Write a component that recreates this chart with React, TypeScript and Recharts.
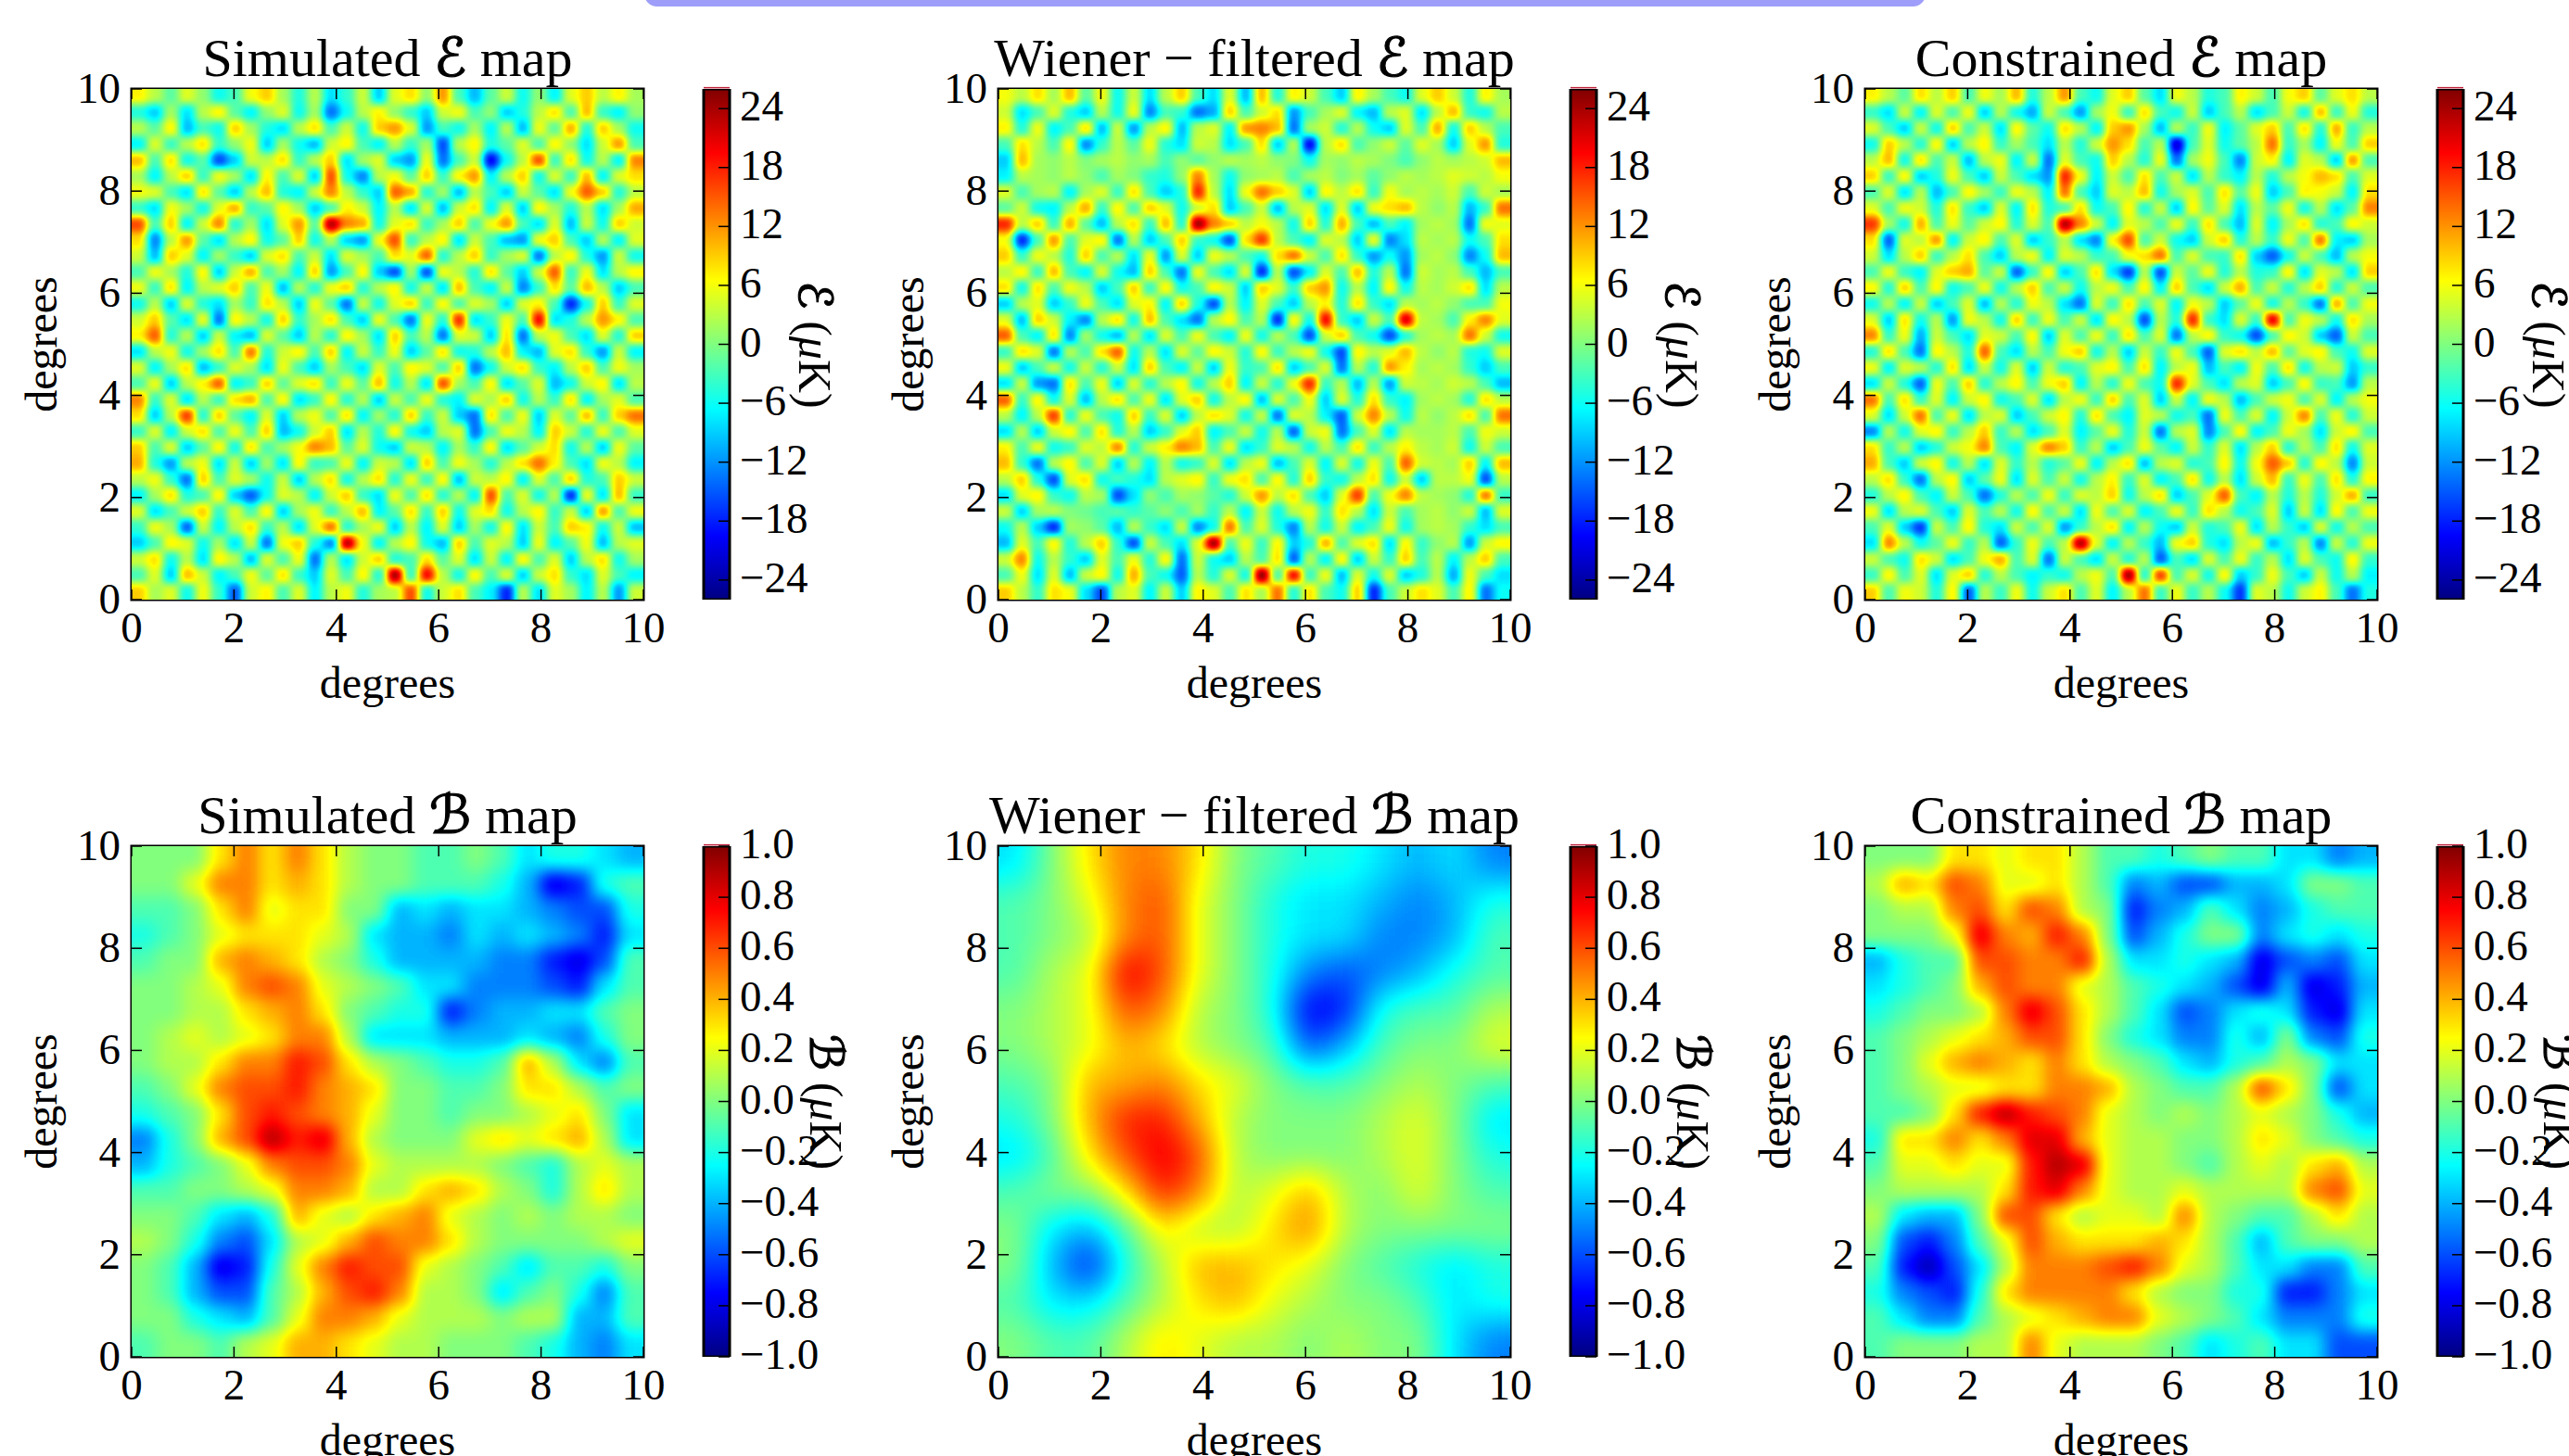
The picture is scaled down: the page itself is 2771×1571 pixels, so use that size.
import React from 'react';
import {
  ScatterChart, Scatter, BarChart, Bar, XAxis, YAxis, ReferenceArea, ReferenceLine,
} from 'recharts';

const mapTicks = [0, 2, 4, 6, 8, 10];
const eBarTicks = [-24, -18, -12, -6, 0, 6, 12, 18, 24];
const bBarTicks = [-1, -0.8, -0.6, -0.4, -0.2, 0, 0.2, 0.4, 0.6, 0.8, 1];

// E maps in uK (top row first)
const eSimulated = [
  [7,3,-2,5,1,-6,-3,6,9,2,-5,3,-8,-4,4,-9,5,8,1,12,-3,-10,-2,4,-6,1,-7,5,9,3,7,2],
  [-5,-9,2,-8,3,7,-2,-7,1,5,-6,2,-14,-6,3,7,1,-4,-9,4,6,-3,1,-9,-5,3,8,-3,10,-4,-7,1],
  [3,-2,7,-10,-3,-6,9,2,-5,-8,3,8,-3,4,-6,9,12,5,-12,-3,-6,2,-7,3,-10,6,-2,11,-5,9,2,-6],
  [-7,5,-4,3,8,-4,1,6,-9,2,-6,-10,4,7,-3,-7,3,-4,2,-16,3,7,-5,-2,5,-3,7,1,-8,4,12,-3],
  [10,-3,8,-6,-2,-16,-9,4,3,8,-4,3,9,-8,2,5,-9,-12,6,-14,-3,4,-20,-6,3,16,-4,8,-6,3,-7,13],
  [2,-7,3,9,-4,6,2,-8,7,-3,5,-9,16,-6,-13,3,6,-2,9,-4,7,12,-7,3,9,-6,5,-4,10,-7,5,8],
  [6,5,-3,-8,8,-2,-9,3,10,-5,-7,4,13,3,-4,-9,15,11,-5,2,-10,3,-3,-9,4,-2,-8,6,15,9,-5,3],
  [-4,-8,6,2,-6,5,11,-4,-2,7,2,-9,-3,7,4,-7,3,-8,5,-10,4,8,-7,5,-9,7,2,-5,3,-8,2,11],
  [16,-3,9,-7,4,13,-5,2,-8,5,12,-2,24,13,11,-6,5,8,-4,2,9,-3,6,12,-3,-8,5,-10,4,-6,9,4],
  [8,-13,3,12,-2,-8,3,7,-6,-2,9,-6,3,-9,-12,6,16,-4,3,7,-8,4,-3,-10,-12,6,9,-3,-9,3,-7,5],
  [4,-10,9,5,-7,2,-4,-9,5,8,-3,4,-8,5,2,-3,8,5,15,-5,3,9,-4,2,5,-14,3,7,-5,-12,4,-6],
  [-3,6,2,-5,7,-9,4,11,-3,2,-7,9,-12,-3,7,-9,-16,2,-16,6,3,-5,8,-2,-9,4,15,-4,6,-8,3,7],
  [6,-4,8,-7,3,5,9,-3,6,-10,3,-5,6,9,-5,3,7,-6,4,-8,10,-3,-7,4,-13,-4,8,-2,10,3,-9,-3],
  [-6,3,-9,5,-5,-8,2,-4,8,3,-9,6,-2,-14,4,-6,5,9,-4,7,-3,5,2,-9,5,7,-3,-18,-6,9,-4,5],
  [4,9,-2,-8,6,-14,7,3,-6,9,-4,2,8,-3,-9,6,-3,-14,6,-5,18,-8,-4,6,-3,20,-8,-5,3,12,7,-3],
  [7,15,-5,3,-9,4,-7,-10,5,-2,-9,3,-5,7,2,-8,9,-3,3,-14,5,4,-9,8,-14,3,6,-3,-8,5,-5,9],
  [-8,3,6,-6,2,8,-3,14,-5,4,7,-3,9,-7,4,-4,6,-9,-2,8,-6,-5,3,10,-7,-10,5,8,-4,-12,4,-7],
  [5,-7,2,8,-10,-4,5,2,-8,6,-3,-9,2,-3,-8,5,-3,7,5,-3,9,-14,-6,4,8,-4,-7,3,9,-3,6,2],
  [-3,6,-9,3,7,15,-7,-4,9,-2,5,8,-4,6,-2,10,-6,3,-8,16,2,-3,7,-8,-2,5,-10,-6,4,7,-8,3],
  [13,-4,5,-8,3,-4,8,11,-3,7,-8,-4,7,-5,3,-9,4,-3,6,-5,-7,5,2,9,-6,3,-4,8,-7,2,5,-3],
  [8,-9,3,17,-5,9,-2,-7,5,-9,3,6,-3,8,-7,2,-5,9,-4,4,-9,-14,8,-3,6,-9,5,-2,10,-4,9,14],
  [-4,5,-7,4,8,-3,6,-3,9,-10,-6,4,9,-8,3,-5,7,-6,-9,3,5,-14,-3,6,3,-7,9,4,-5,6,-3,5],
  [9,-3,5,-9,-2,7,-6,8,-3,2,6,13,10,-2,5,-6,-9,4,3,-7,2,-4,7,-8,-2,4,8,-6,3,-9,6,-2],
  [11,-5,-12,3,6,-8,4,-9,2,-8,7,-4,-3,6,-7,4,3,-8,9,-3,6,2,-5,3,8,14,7,-3,-8,6,3,-7],
  [3,6,-4,-14,9,-3,5,2,-6,4,-9,3,8,-6,3,8,-5,6,-4,7,-10,4,3,7,-7,5,-3,9,-5,-3,9,4],
  [-7,2,8,-5,-3,7,-9,-15,-6,5,3,-7,4,9,-4,-8,6,-3,8,-5,3,-7,16,-3,5,-6,3,-18,6,-8,10,-4],
  [5,-8,-3,4,9,-4,5,-3,7,-9,2,6,-4,3,10,-7,-2,8,-4,9,-6,5,8,-6,3,7,-4,4,-9,12,-3,6],
  [-4,6,2,-15,4,-7,3,8,-4,3,-8,5,14,-5,2,6,-9,3,-7,5,-9,2,-6,7,-8,4,-3,9,7,-6,4,-10],
  [-9,-3,7,5,-6,2,-8,4,-14,6,9,-5,-13,24,6,-7,3,7,-6,-10,9,-3,5,3,-9,6,-7,-2,6,-10,3,5],
  [4,8,-6,3,-8,7,3,-10,5,-3,6,-14,3,-8,4,9,-5,-3,8,-2,5,-8,4,-7,7,-3,5,-9,3,8,-6,2],
  [-3,5,-9,10,4,-7,-3,6,-2,8,-4,-9,5,-3,7,-5,25,-4,20,3,-6,7,-3,5,-9,4,8,-4,-8,5,-3,-7],
  [9,2,5,-6,6,-4,-15,4,7,-3,5,-7,3,6,-5,2,3,16,-6,4,8,-3,-7,-18,3,-8,5,2,-7,3,-12,4],
];

const eWiener = [
  [6,3,8,2,10,-2,6,-6,4,-8,3,9,-3,-8,5,-10,10,-5,7,4,-3,-9,7,2,-3,-6,5,9,4,-5,7,2],
  [4,-8,-3,5,-5,-9,3,-6,6,-13,-3,-4,-14,-11,9,-3,4,8,-12,-3,2,5,-7,-10,3,5,-8,3,10,-4,-6,3],
  [7,-5,6,-7,-3,8,-10,4,-12,3,7,-10,3,5,-7,12,13,10,-14,2,4,-5,3,-6,-9,5,-3,11,-6,9,3,-3],
  [-3,8,3,-3,7,-13,-4,3,-2,6,-5,-8,4,3,-8,-3,8,-9,3,-20,3,8,-3,1,4,-2,5,2,-9,5,12,-5],
  [-9,10,2,1,3,0,2,3,1,2,-3,1,-2,1,3,2,3,1,0,-6,2,1,3,2,0,-3,1,3,2,3,4,10],
  [-7,3,2,1,3,1,-3,2,0,-4,-5,1,13,2,-6,1,2,3,-3,2,3,0,2,-2,1,3,2,3,5,4,3,6],
  [5,-3,2,3,-7,2,5,-4,8,-3,-9,-5,18,3,-8,6,14,9,5,-9,7,3,8,-4,6,2,3,2,4,-3,4,2],
  [-2,4,-6,-7,3,11,-4,7,-3,9,5,-6,4,8,-9,-3,4,-10,3,5,-8,5,-9,6,8,10,3,1,3,-10,-4,14],
  [18,3,9,-4,11,-2,-10,3,8,-4,10,-5,25,13,9,3,6,3,-6,9,-5,11,-3,-10,-3,-7,2,3,2,-14,6,5],
  [6,-18,-3,12,-3,5,7,-14,3,-9,-3,9,-4,-6,-16,8,17,3,-3,-7,5,3,-9,6,-13,-8,3,2,3,-6,-3,8],
  [9,-4,6,3,-5,9,-3,3,-8,6,-12,5,-9,6,3,-3,-6,8,14,4,-3,8,-4,-12,-6,-12,2,3,1,-13,-6,10],
  [3,7,-4,10,-3,-7,5,-6,-10,9,-3,-14,6,-3,-8,5,-18,3,-16,-7,5,-3,10,-5,3,-14,4,2,3,-3,-10,-3],
  [8,-6,8,-3,6,3,-9,-3,9,-4,7,-6,-3,7,4,-9,9,5,-4,9,12,-6,3,-7,7,-6,3,2,4,8,-8,3],
  [-9,3,5,-9,-4,6,-3,-8,5,7,-7,9,-5,-16,3,-7,5,-3,-9,3,7,-5,8,-4,-8,3,2,3,1,-3,-3,6],
  [5,-10,9,4,-7,-13,3,8,-6,10,-3,-8,-14,3,7,-3,3,-18,7,-6,20,-4,-9,4,-3,22,3,2,-3,7,13,5],
  [15,-3,-7,8,-13,2,-6,-10,3,-8,5,-3,6,-3,-7,6,-6,3,-3,-16,4,9,-3,-6,-16,-5,2,3,2,14,4,-6],
  [-4,8,5,-14,3,-3,8,15,-6,3,-8,5,-2,7,4,-5,7,-4,3,6,-6,-16,7,3,5,10,3,1,3,-5,-6,5],
  [6,-9,-3,4,-6,4,-5,4,-8,9,-3,-7,4,-9,6,-4,-3,8,-9,-3,5,-14,3,-5,12,7,2,3,2,-4,-9,-3],
  [-8,4,-12,-14,8,-3,6,-9,5,-5,3,7,-6,3,9,-7,4,-5,6,18,-4,3,-10,3,-12,4,3,2,4,3,-3,-10],
  [15,-4,7,-6,5,-10,3,8,-3,6,-8,5,9,-6,3,7,-10,5,-3,6,-9,5,-5,8,-4,-7,2,3,2,-5,8,3],
  [3,-7,3,17,-5,6,-3,-6,9,-4,5,-9,3,8,5,-6,4,-14,5,3,-7,-15,4,13,3,-6,3,1,3,8,-3,14],
  [-8,3,-9,4,7,-3,8,-5,3,-9,-4,5,9,-7,-3,4,-6,3,-15,4,6,-14,-3,5,-8,3,2,2,3,-3,6,4],
  [7,-3,6,-6,-4,5,3,13,-5,4,7,13,10,-3,6,-8,-4,5,3,-6,3,-3,8,-4,3,7,3,2,4,-6,4,-3],
  [10,-4,-14,3,7,-3,5,-9,3,-7,3,-6,-4,5,-8,3,6,-10,-3,5,-7,5,-6,6,-3,15,4,3,2,9,-7,10],
  [3,9,-5,-16,5,8,-6,-3,-5,-8,3,5,7,-4,6,8,-3,7,-5,9,-4,-6,3,8,-6,4,-9,3,3,6,-16,3],
  [-8,5,7,-4,-6,3,2,-16,-8,1,-3,2,1,-2,-5,4,12,3,8,-3,-9,5,17,-3,6,13,3,2,1,-5,14,-4],
  [4,-9,2,3,0,-1,-3,-2,-4,-2,1,-3,2,-4,3,-7,4,-6,3,6,-4,8,3,-8,4,-3,2,3,1,4,-10,5],
  [-6,3,-9,-18,2,1,-2,-10,3,-4,-8,4,-13,-6,14,-3,5,-5,-13,3,-6,4,-7,-3,6,-6,2,3,2,-4,-8,-3],
  [-10,5,-3,7,-5,3,9,-4,-16,4,-3,-8,5,25,-3,6,-4,7,-9,-5,11,-3,5,8,-8,7,-4,1,3,-12,4,7],
  [4,13,-6,3,-4,-9,5,-3,6,-5,7,-14,4,-6,-9,3,-3,8,-15,3,-7,7,-9,4,-4,9,-3,3,-7,3,9,-3],
  [-3,6,-8,5,-10,4,7,-6,11,-3,-6,-15,3,-5,5,-6,26,-3,20,-4,6,-10,5,-6,5,-9,-5,3,-11,6,-3,-8],
  [9,3,-4,8,6,-8,-16,3,5,-7,4,-9,7,5,-3,8,2,14,-5,8,-3,-6,9,-18,-3,4,8,5,-3,7,-14,-6],
];

const eConstrained = [
  [7,3,-2,8,3,9,-3,6,2,10,-5,3,12,-3,-6,5,9,-2,-8,6,3,-5,-3,7,4,-3,6,9,-2,5,8,3],
  [-4,-8,4,-7,5,-3,6,-9,3,-6,-11,4,-3,-12,2,6,-4,8,-3,-6,4,-9,-3,3,-8,-3,4,-6,10,-4,6,-5],
  [5,-3,-9,4,-6,9,-3,4,-8,7,-2,-6,8,3,-7,9,12,2,-10,3,-4,6,-7,-2,5,9,-3,8,-5,11,-4,3],
  [-6,9,3,-5,7,-9,3,7,-4,2,-3,-8,3,-5,4,12,8,-3,3,-22,-3,5,-6,-2,3,14,-4,2,-7,6,-3,9],
  [3,10,-6,8,-3,4,-10,3,6,-7,4,-14,5,-3,-6,9,3,-5,6,-14,2,6,-3,-13,4,7,-7,5,3,-9,12,-3],
  [9,-4,7,-9,-5,6,-3,-9,4,-3,-8,-12,18,6,-7,4,-3,8,-3,4,-8,3,-4,-7,3,-5,3,6,10,8,-3,5],
  [-3,5,-8,3,-10,-3,7,2,-4,6,3,-7,14,-3,-9,5,3,10,-6,2,5,-3,8,-2,6,-9,-3,7,6,4,-7,8],
  [5,-3,6,4,-5,8,-4,-9,5,-7,8,-5,-3,8,-6,-3,7,-5,4,-9,7,-2,5,-8,3,-2,6,-6,3,-8,-2,13],
  [17,2,-6,11,-3,6,-2,4,7,-5,5,-3,24,13,4,-7,5,3,-3,6,-4,8,-3,-10,5,-7,2,8,-5,-3,7,4],
  [8,-15,5,3,12,-7,4,7,-3,5,-9,-4,3,-8,-13,7,16,-3,4,-6,-9,4,9,-5,3,-4,6,-3,14,-7,-9,2],
  [4,-8,3,9,-4,3,8,-3,-9,3,6,-7,5,3,-4,-3,6,8,14,-3,5,-3,-4,8,-9,-15,-6,4,-3,-10,3,6],
  [-3,6,-4,-7,5,9,11,-2,4,-15,-4,7,-9,-3,8,-8,-17,3,-16,4,-2,6,-5,3,-5,-4,7,-8,5,3,-8,9],
  [7,-5,9,-3,7,-6,-3,6,-6,3,9,-3,4,-6,3,6,-3,7,-7,9,-3,-8,4,11,-3,4,-5,3,9,-5,4,-3],
  [-6,3,-7,4,-9,-3,5,-10,3,-5,6,3,-8,-14,5,-4,8,-3,5,-7,6,3,-9,-2,6,-6,3,-4,-14,11,-3,6],
  [5,-9,8,-6,3,-12,6,3,-6,9,-4,6,-3,4,-8,7,3,-16,3,-5,18,-4,-8,5,-4,21,-3,6,3,-6,8,2],
  [13,-4,6,-11,4,-3,-8,5,4,-3,7,-9,5,-3,6,-4,8,-3,5,-14,3,7,-4,-6,-16,-3,7,4,-9,-15,4,-3],
  [-5,8,-3,-14,7,3,-5,15,-3,-8,3,-3,6,9,-6,3,-9,4,-4,6,-3,-15,5,8,3,10,-2,5,7,-3,-6,5],
  [6,-7,5,3,-5,8,-8,4,-6,5,-9,4,-5,-3,5,7,-3,8,-7,3,6,-10,-3,-7,6,-3,8,-6,3,4,-9,-4],
  [-8,4,-5,-15,6,-3,9,-5,3,7,-3,6,9,-7,3,-5,6,-3,-6,18,5,-3,-8,3,5,-9,-3,7,-4,-3,-12,3],
  [14,-3,8,-4,5,-7,4,7,-6,-3,5,-8,3,6,-4,9,-3,5,-9,4,-7,6,3,-10,-3,4,6,-3,5,-7,3,6],
  [5,-8,4,14,-3,6,-8,3,5,-9,-3,4,7,-5,8,-3,-7,5,3,-6,-3,-14,6,-3,5,-7,4,13,-3,6,-5,4],
  [-13,3,-6,5,7,-4,3,9,-4,3,-8,-3,5,-7,-2,6,-5,4,-14,3,5,-13,-3,7,-7,-3,6,2,-8,4,7,-3],
  [8,-4,3,-9,-5,4,6,13,-3,-7,5,13,9,-4,3,-9,-3,6,-2,-7,4,-4,5,-8,3,9,-5,3,-3,8,-6,5],
  [11,-3,-9,4,7,-6,3,-8,5,-4,3,-5,-2,6,-7,3,8,-10,3,5,-5,-3,7,-6,6,15,9,-5,7,3,-13,4],
  [3,8,-4,-14,3,7,-9,-2,6,-8,5,-3,4,-6,3,7,-4,5,-7,-3,8,-6,3,-8,4,10,-4,6,-3,8,-5,7],
  [-5,3,7,-3,-7,4,-3,-14,-5,3,-3,6,-4,5,3,9,-6,3,8,-9,-3,5,15,-3,-7,3,-5,3,-5,4,11,-4],
  [6,-8,3,5,-3,-9,5,-3,3,-6,7,-3,4,-8,6,-3,5,-7,-3,6,-4,8,3,-6,-3,5,-9,4,-8,7,-3,6],
  [-3,5,-9,-17,4,-3,7,-5,-8,4,-3,5,-12,-4,3,8,-7,3,-6,-9,4,-5,-3,6,-8,3,-4,-9,5,-6,3,-3],
  [-8,13,3,-6,-2,6,-4,3,-15,-4,6,-3,3,24,5,-7,3,-4,-10,6,9,-5,-8,3,6,-10,-4,3,-13,4,-5,6],
  [4,-3,-6,8,4,-8,-3,6,11,-3,5,-14,4,-3,-8,4,-5,3,-15,-3,-8,5,-3,6,-4,3,-8,5,-3,-6,7,-4],
  [-4,7,-3,5,-8,5,9,-5,3,-3,-7,-4,-6,3,6,-3,25,-5,17,-3,5,-6,7,-9,-4,6,-3,-9,4,-6,3,-7],
  [9,-3,6,4,-5,7,-15,3,-4,6,-6,4,8,-3,5,-7,3,14,-4,6,-4,3,-6,-17,5,3,-6,4,7,-3,-14,-5],
];

// B maps in tenths of a uK
const bSimulated = [
  [0,0,0,3,5,3,5,3,1,0,0,-1,-1,0,-1,-3,-2,-2,-3,-4],
  [0,0,2,5,5,3,4,3,1,0,0,-1,-1,-1,-2,-4,-8,-7,-2,-1],
  [-1,-1,0,3,5,2,3,3,0,0,-4,-3,-4,-3,-3,-4,-5,-6,-6,-2],
  [-2,-1,0,2,3,3,3,2,1,-3,-4,-4,-5,-3,-4,-3,-4,-5,-7,-3],
  [-1,0,0,4,5,4,3,1,0,-2,-4,-4,-4,-4,-5,-5,-7,-8,-6,-1],
  [0,0,1,2,5,6,5,2,1,0,-1,-3,-3,-5,-5,-5,-6,-7,-3,-1],
  [0,0,1,1,3,4,5,3,0,-1,-2,-2,-7,-5,-4,-4,-3,-3,-1,0],
  [0,1,2,1,2,3,5,5,1,-3,-3,-3,-4,-4,-4,-3,-4,-5,-2,0],
  [0,1,1,3,5,5,7,6,3,1,0,-1,-2,-2,-1,4,1,-3,-5,-1],
  [-1,0,2,5,6,6,7,5,4,3,0,0,-1,-1,0,3,3,1,-1,0],
  [-2,-1,0,3,6,7,6,5,4,2,0,0,-1,0,0,1,2,3,0,-3],
  [-5,-2,0,4,6,9,7,8,4,1,0,0,0,2,3,2,3,4,1,-3],
  [-4,-2,-1,0,2,5,6,6,5,2,1,1,1,1,0,-1,-2,1,2,1],
  [-1,-1,0,0,1,2,5,5,4,1,1,3,4,3,1,0,-2,1,3,1],
  [0,0,-1,-3,-4,-2,4,2,1,3,4,5,2,1,0,1,0,1,1,0],
  [1,0,-2,-5,-6,-3,1,2,4,6,5,5,3,1,0,0,0,0,1,2],
  [0,-1,-4,-8,-7,-2,2,5,7,6,6,2,1,0,-1,-3,-1,-1,-2,0],
  [0,-1,-4,-6,-6,-1,1,4,6,7,5,1,1,0,-3,-1,0,-2,-5,-1],
  [0,0,-2,-3,-4,-1,2,5,5,4,2,1,1,1,0,1,1,-4,-4,-1],
  [-1,0,0,-1,1,2,4,4,3,2,1,1,0,0,0,-1,-2,-4,-5,-3],
];

const bWiener = [
  [-3,0,3,5,5,3,0,-1,-2,-2,-3,-4,-3,-5],
  [-1,0,2,5,6,2,0,-2,-3,-3,-4,-5,-4,-2],
  [-1,0,1,5,6,2,0,-2,-3,-3,-5,-5,-4,-1],
  [-1,1,2,8,6,2,0,-2,-5,-6,-5,-4,-2,-1],
  [0,1,2,6,5,1,0,-2,-8,-7,-2,-1,-1,1],
  [0,1,2,4,3,1,0,-1,-6,-4,-1,0,0,2],
  [-1,0,4,4,5,3,2,0,-1,-1,0,1,0,-1],
  [-2,0,4,7,7,4,1,0,0,0,1,2,0,-3],
  [-3,-1,3,6,8,6,1,0,0,0,1,2,0,-2],
  [-1,0,0,3,7,5,1,2,4,1,0,2,0,-1],
  [0,-3,-4,-1,3,1,1,3,5,1,0,0,0,0],
  [0,-4,-7,-2,1,4,4,3,2,0,-1,-2,-3,-2],
  [-1,-3,-3,-1,1,3,4,2,1,0,0,-1,-3,-2],
  [0,-1,-1,1,3,2,1,1,0,1,0,0,-3,-5],
];

const bConstrained = [
  [0,0,0,3,3,2,3,3,1,-1,-1,-2,-1,0,-1,-1,-3,-3,-5,-4],
  [1,4,3,6,5,2,2,3,1,-1,-5,-4,-6,-6,-4,-4,-3,0,0,-1],
  [0,1,1,5,6,3,6,5,1,0,-7,-5,-4,-1,-3,-5,-4,-2,-1,-1],
  [0,0,0,2,8,5,4,7,5,0,-6,-4,-2,0,0,-5,-3,-2,-3,-2],
  [-4,-2,-1,-1,6,6,5,5,7,1,-3,-3,-2,-3,-4,-8,-6,-5,-6,-3],
  [-3,-2,-1,0,4,6,5,5,2,1,-1,-2,-3,-4,-6,-8,-4,-8,-7,-4],
  [-2,-1,0,0,1,5,8,6,3,1,-1,-3,-6,-5,-3,-2,-3,-7,-8,-3],
  [-1,0,1,2,3,4,6,6,3,0,-2,-3,-5,-5,-2,-4,0,-5,-6,-2],
  [-1,0,2,4,5,4,3,5,3,1,0,-1,-3,-4,-2,-1,1,0,-3,-3],
  [-1,0,1,2,2,3,3,5,5,4,1,0,-1,-1,1,6,3,0,-6,-3],
  [-1,-1,0,3,7,9,7,6,5,2,1,0,1,0,1,2,1,0,-2,-4],
  [-2,3,3,5,3,5,8,8,4,2,1,1,0,0,1,3,2,0,-1,-2],
  [-1,2,2,3,2,2,7,9,8,2,1,1,0,-1,1,2,1,3,4,1],
  [0,1,1,1,1,3,7,8,5,2,1,1,2,1,1,1,1,5,6,2],
  [1,-3,-4,-4,0,6,6,3,1,2,2,1,5,1,0,-1,-1,1,3,1],
  [0,-6,-7,-5,-1,2,6,4,3,3,3,4,3,1,-1,-4,-1,0,0,1],
  [-1,-7,-9,-6,-3,1,5,5,5,6,7,5,2,1,-1,-3,-3,-5,-5,-1],
  [-2,-5,-6,-7,-2,3,5,5,5,5,3,1,0,0,-2,-2,-7,-7,-5,-3],
  [-1,-3,-5,-5,-1,1,2,3,4,5,5,2,1,0,-1,-3,-5,-5,-5,-2],
  [-1,0,0,0,1,1,5,2,1,1,1,0,-1,-3,-2,-1,-3,-3,-6,-6],
];

const FONT = '"Liberation Serif", serif';
const TICK_SIZE = 47;
const PLOT = 552;
const CHART_H = 770;

// matplotlib's jet, t in 0..1
const jet = (t: number) =>
  [3, 2, 1].map((k) => Math.max(0, Math.min(1, 1.5 - Math.abs(4 * t - k))).toFixed(3));
const jetSamples = Array.from({ length: 65 }, (_, i) => jet(i / 64));
const jetTable = (ch: number) => jetSamples.map((s) => s[ch]).join(' ');

const toCells = (rows: number[][], scale: number, vmax: number) =>
  rows.flatMap((row, r) =>
    row.map((v, c) => ({
      x: ((c + 0.5) * 10) / row.length,
      y: 10 - ((r + 0.5) * 10) / rows.length,
      // grey level is turned back into jet by the svg filter after blurring
      level: (v * scale + vmax) / (2 * vmax),
      c,
      r,
      cols: row.length,
      nrows: rows.length,
    })),
  );

function HeatCell({ cx, cy, payload }: any) {
  const w = PLOT / payload.cols;
  const h = PLOT / payload.nrows;
  const grow = 40; // edge cells run past the frame so the blur does not fade there
  const x0 = cx - w / 2 - (payload.c === 0 ? grow : 0.6);
  const x1 = cx + w / 2 + (payload.c === payload.cols - 1 ? grow : 0.6);
  const y0 = cy - h / 2 - (payload.r === 0 ? grow : 0.6);
  const y1 = cy + h / 2 + (payload.r === payload.nrows - 1 ? grow : 0.6);
  const g = Math.round(Math.max(0, Math.min(1, payload.level)) * 255);
  return <rect x={x0} y={y0} width={x1 - x0} height={y1 - y0} fill={`rgb(${g},${g},${g})`} />;
}

const XTick = ({ x, y, payload }: any) => (
  <g>
    <line x1={x} x2={x} y1={y} y2={y - 11} stroke="#000" strokeWidth={1.5} />
    <line x1={x} x2={x} y1={y - PLOT + 1} y2={y - PLOT + 12} stroke="#000" strokeWidth={1.5} />
    <text x={x} y={y + 46} textAnchor="middle" fontFamily={FONT} fontSize={TICK_SIZE} fill="#000">
      {payload.value}
    </text>
  </g>
);

const YTick = ({ x, y, payload }: any) => (
  <g>
    <line x1={x} x2={x + 11} y1={y} y2={y} stroke="#000" strokeWidth={1.5} />
    <line x1={x + PLOT - 11} x2={x + PLOT} y1={y} y2={y} stroke="#000" strokeWidth={1.5} />
    <text x={x - 12} y={y + 15} textAnchor="end" fontFamily={FONT} fontSize={TICK_SIZE} fill="#000">
      {payload.value}
    </text>
  </g>
);

const formatBar = (v: number, decimals: number) =>
  (v < 0 ? '\u2212' : '') + Math.abs(v).toFixed(decimals);

const BarTick = ({ x, y, payload, decimals }: any) => (
  <g>
    <line x1={x - 12} x2={x} y1={y} y2={y} stroke="#000" strokeWidth={1.5} />
    <text x={x + 11} y={y + 13} textAnchor="start" fontFamily={FONT} fontSize={TICK_SIZE} fill="#000">
      {formatBar(payload.value, decimals)}
    </text>
  </g>
);

interface MapPanelProps {
  title: React.ReactNode;
  cells: ReturnType<typeof toCells>;
  filter: string;
  left: number;
  top: number;
}

function MapPanel({ title, cells, filter, left, top }: MapPanelProps) {
  return (
    <div style={{ position: 'absolute', left, top }}>
      <ScatterChart width={740} height={CHART_H} margin={{ top: 96, right: 46, bottom: 0, left: 0 }}>
        <text x={418} y={82} textAnchor="middle" fontFamily={FONT} fontSize={58} fill="#000">
          {title}
        </text>
        <Scatter
          className={filter}
          data={cells}
          dataKey="y"
          isAnimationActive={false}
          shape={(p: any) => <HeatCell {...p} />}
        />
        <XAxis
          type="number"
          dataKey="x"
          domain={[0, 10]}
          ticks={mapTicks}
          allowDataOverflow
          height={123}
          tickSize={0}
          tickMargin={0}
          tickLine={false}
          axisLine={false}
          interval={0}
          tick={(p: any) => <XTick {...p} />}
          label={{ value: 'degrees', position: 'insideBottom', offset: 17, fontFamily: FONT, fontSize: 48, fill: '#000' }}
        />
        <YAxis
          type="number"
          dataKey="y"
          domain={[0, 10]}
          ticks={mapTicks}
          allowDataOverflow
          width={142}
          tickSize={0}
          tickMargin={0}
          tickLine={false}
          axisLine={false}
          interval={0}
          tick={(p: any) => <YTick {...p} />}
          label={{ value: 'degrees', angle: -90, position: 'insideLeft', offset: 44, fontFamily: FONT, fontSize: 48, fill: '#000', style: { textAnchor: 'middle' } }}
        />
        <ReferenceArea x1={0} x2={10} y1={0} y2={10} fill="none" stroke="#000" strokeWidth={3} ifOverflow="visible" />
      </ScatterChart>
    </div>
  );
}

interface ColorBarProps {
  ticks: number[];
  limit: number;
  decimals: number;
  label: React.ReactNode;
  labelX: number;
  left: number;
  top: number;
}

function ColorBar({ ticks, limit, decimals, label, labelX, left, top }: ColorBarProps) {
  const band = [{ name: 'band', range: [-limit, limit] }];
  return (
    <div style={{ position: 'absolute', left, top }}>
      <BarChart
        width={210}
        height={CHART_H}
        data={band}
        barCategoryGap={0}
        margin={{ top: 96, right: 0, bottom: 123, left: 19 }}
      >
        <Bar dataKey="range" fill="url(#jetRamp)" stroke="#000" strokeWidth={3} isAnimationActive={false} />
        <XAxis dataKey="name" hide />
        <YAxis
          orientation="right"
          type="number"
          domain={[-limit, limit]}
          ticks={ticks}
          width={163}
          allowDataOverflow
          tickSize={0}
          tickMargin={0}
          tickLine={false}
          axisLine={false}
          interval={0}
          tick={(p: any) => <BarTick {...p} decimals={decimals} />}
        />
        <ReferenceLine y={limit * 1.005} stroke="#c0203a" strokeWidth={1.5} ifOverflow="visible" />
        <text
          x={labelX}
          y={372}
          transform={`rotate(90 ${labelX} 372)`}
          textAnchor="middle"
          fontFamily={FONT}
          fontSize={50}
          fill="#000"
        >
          {label}
        </text>
      </BarChart>
    </div>
  );
}

const columns = [0, 935, 1870];
const rowTops = [0, 817];

const Script = ({ ch }: { ch: string }) => (
  <tspan fontFamily="DejaVu Sans" fontStyle="italic" stroke="#000" strokeWidth={1.2}>{ch}</tspan>
);
const unitLabel = (ch: string) => (
  <>
    <Script ch={ch} /> (<tspan fontStyle="italic">{'\u03bc'}</tspan>K)
  </>
);

const E_CH = '\u2130';
const B_CH = '\u212C';

const panels = [
  { name: 'Simulated', ch: E_CH, rows: eSimulated, scale: 1, vmax: 26, filter: 'heat-e', col: 0, row: 0 },
  { name: 'Wiener \u2212 filtered', ch: E_CH, rows: eWiener, scale: 1, vmax: 26, filter: 'heat-e', col: 1, row: 0 },
  { name: 'Constrained', ch: E_CH, rows: eConstrained, scale: 1, vmax: 26, filter: 'heat-e', col: 2, row: 0 },
  { name: 'Simulated', ch: B_CH, rows: bSimulated, scale: 0.1, vmax: 1, filter: 'heat-b', col: 0, row: 1 },
  { name: 'Wiener \u2212 filtered', ch: B_CH, rows: bWiener, scale: 0.1, vmax: 1, filter: 'heat-w', col: 1, row: 1 },
  { name: 'Constrained', ch: B_CH, rows: bConstrained, scale: 0.1, vmax: 1, filter: 'heat-b', col: 2, row: 1 },
];

const JetFilter = ({ id, blur }: { id: string; blur: number }) => (
  <filter id={id} colorInterpolationFilters="sRGB" x="-10%" y="-10%" width="120%" height="120%">
    <feGaussianBlur stdDeviation={blur} />
    <feComponentTransfer>
      <feFuncR type="table" tableValues={jetTable(0)} />
      <feFuncG type="table" tableValues={jetTable(1)} />
      <feFuncB type="table" tableValues={jetTable(2)} />
    </feComponentTransfer>
  </filter>
);

export default function App() {
  return (
    <div style={{ position: 'absolute', left: 0, top: 0, width: 2771, height: 1571, overflow: 'hidden', background: '#fff' }}>
      <style>{`
        .heat-e { filter: url(#jetE); }
        .heat-b { filter: url(#jetB); }
        .heat-w { filter: url(#jetW); }
      `}</style>
      <svg width={0} height={0} style={{ position: 'absolute' }}>
        <defs>
          <JetFilter id="jetE" blur={4.5} />
          <JetFilter id="jetB" blur={9} />
          <JetFilter id="jetW" blur={18} />
          <linearGradient id="jetRamp" x1="0" y1="1" x2="0" y2="0">
            <stop offset="0" stopColor="#000080" />
            <stop offset="0.125" stopColor="#0000ff" />
            <stop offset="0.375" stopColor="#00ffff" />
            <stop offset="0.625" stopColor="#ffff00" />
            <stop offset="0.875" stopColor="#ff0000" />
            <stop offset="1" stopColor="#800000" />
          </linearGradient>
        </defs>
      </svg>
      <div style={{ position: 'absolute', left: 695, top: -20, width: 1382, height: 27, borderRadius: 20, background: '#9e9efa' }} />
      {panels.map((p) => (
        <MapPanel
          key={`${p.name}-${p.ch}`}
          title={<>{p.name} <Script ch={p.ch} /> map</>}
          cells={toCells(p.rows, p.scale, p.vmax)}
          filter={p.filter}
          left={columns[p.col]}
          top={rowTops[p.row]}
        />
      ))}
      {columns.map((c) => (
        <ColorBar key={`e-${c}`} ticks={eBarTicks} limit={26} decimals={0} label={unitLabel(E_CH)} labelX={122} left={c + 740} top={rowTops[0]} />
      ))}
      {columns.map((c) => (
        <ColorBar key={`b-${c}`} ticks={bBarTicks} limit={1} decimals={1} label={unitLabel(B_CH)} labelX={134} left={c + 740} top={rowTops[1]} />
      ))}
    </div>
  );
}
